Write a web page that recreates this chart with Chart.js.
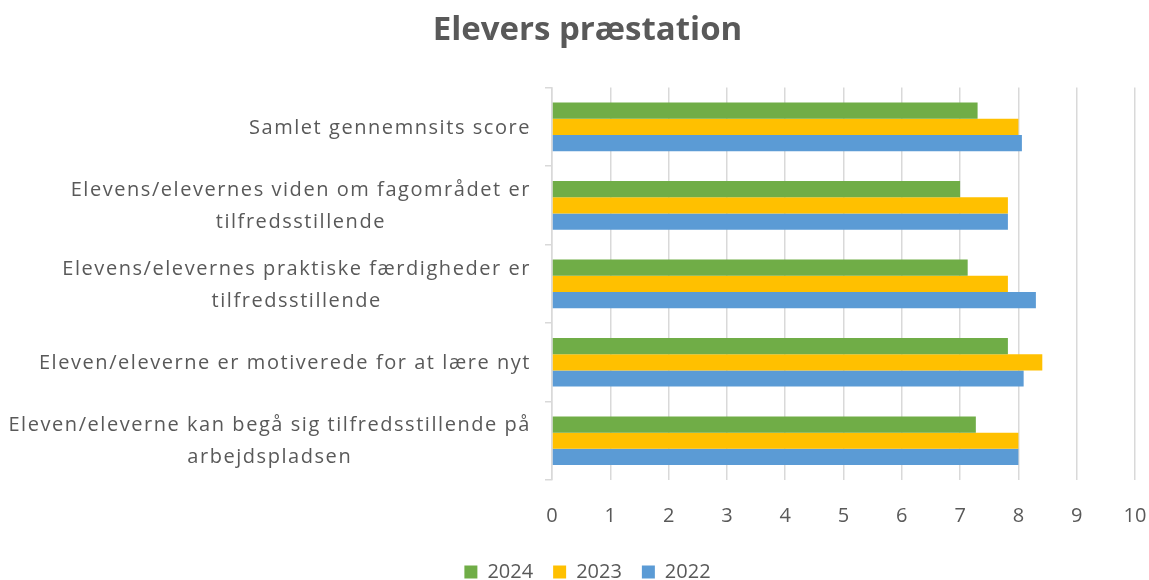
<!DOCTYPE html>
<html>
<head>
<meta charset="utf-8">
<script src="https://cdn.jsdelivr.net/npm/chart.js@4.4.0/dist/chart.umd.min.js"></script>
<style>
  html, body { margin: 0; padding: 0; background: #fff; }
  #wrap { width: 1149px; height: 580px; }
</style>
</head>
<body>
<div id="wrap"><canvas id="chart"></canvas></div>
<script>
// Data
const categories = [
    ['Samlet gennemnsits score'],
    ['Elevens/elevernes viden om fagområdet er', 'tilfredsstillende'],
    ['Elevens/elevernes praktiske færdigheder er', 'tilfredsstillende'],
    ['Eleven/eleverne er motiverede for at lære nyt'],
    ['Eleven/eleverne kan begå sig tilfredsstillende på', 'arbejdspladsen']
];
const values2024 = [7.3, 7.0, 7.13, 7.82, 7.27];
const values2023 = [8.0, 7.82, 7.82, 8.41, 8.0];
const values2022 = [8.06, 7.82, 8.3, 8.09, 8.0];
const xTicks = [0, 1, 2, 3, 4, 5, 6, 7, 8, 9, 10];

const textColor = '#595959';
const labelFont = '20px "Open Sans"';

// draw category labels: block right aligned, lines centered inside block
const catLabels = {
    id: 'catLabels',
    beforeInit(chart) {
        // pull the legend closer to the bottom edge
        const lg = chart.legend;
        const fit = lg.fit;
        lg.fit = function() { fit.call(this); this.height -= 12; };
    },
    afterDraw(chart) {
        const ctx = chart.ctx;
        const y = chart.scales.y;
        const right = 531;
        const lineH = 32;
        ctx.save();
        ctx.font = labelFont;
        ctx.letterSpacing = '1.55px';
        ctx.fillStyle = textColor;
        ctx.textAlign = 'center';
        ctx.textBaseline = 'middle';
        categories.forEach((lines, i) => {
            const w = Math.max(...lines.map(l => ctx.measureText(l).width));
            const cx = right - w / 2;
            const cy = y.getPixelForValue(i) + 1;
            const top = cy - (lines.length - 1) * lineH / 2;
            lines.forEach((l, j) => ctx.fillText(l, cx, top + j * lineH));
        });
        ctx.restore();
    }
};

new Chart(document.getElementById('chart'), {
    type: 'bar',
    data: {
        labels: categories,
        datasets: [
            { label: '2024', data: values2024, backgroundColor: '#70ad47' },
            { label: '2023', data: values2023, backgroundColor: '#ffc000' },
            { label: '2022', data: values2022, backgroundColor: '#5b9bd5' }
        ]
    },
    options: {
        indexAxis: 'y',
        responsive: true,
        maintainAspectRatio: false,
        animation: false,
        layout: { padding: { left: 26, right: 0, top: 0, bottom: 0 } },
        datasets: { bar: { categoryPercentage: 0.62, barPercentage: 1 } },
        scales: {
            x: {
                min: 0, max: 10,
                afterBuildTicks: (s) => { s.ticks = xTicks.map(v => ({ value: v })); },
                afterFit: (s) => { s.height = 62; s.paddingRight = 14; },
                grid: { color: '#d9d9d9', lineWidth: 1.5, drawTicks: false },
                border: { display: false },
                ticks: { color: textColor, font: { family: 'Open Sans', size: 20 }, padding: 24 }
            },
            y: {
                afterFit: (s) => { s.width = 526; },
                grid: { drawOnChartArea: false, drawTicks: true, tickLength: 7, color: '#d9d9d9', lineWidth: 1.5 },
                border: { display: true, color: '#d9d9d9', width: 1.5 },
                ticks: { display: false }
            }
        },
        plugins: {
            title: {
                display: true,
                text: 'Elevers præstation',
                color: textColor,
                font: { family: 'Open Sans', size: 33, weight: 'bold' },
                padding: { top: 11, bottom: 37 }
            },
            legend: {
                position: 'bottom',
                labels: {
                    color: textColor,
                    font: { family: 'Open Sans', size: 20 },
                    boxWidth: 13, boxHeight: 13, padding: 20
                }
            },
            tooltip: { enabled: false }
        }
    },
    plugins: [catLabels]
});
</script>
</body>
</html>
